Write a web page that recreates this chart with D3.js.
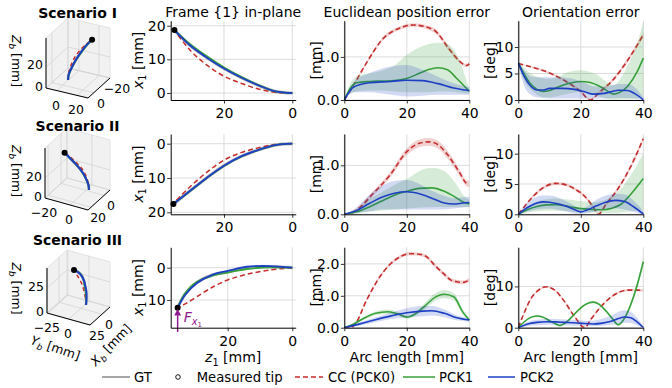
<!DOCTYPE html>
<html><head><meta charset="utf-8">
<script src="https://cdn.jsdelivr.net/npm/d3@7/dist/d3.min.js"></script>
<style>
html,body{margin:0;padding:0;background:#fff;}
svg{display:block;font-family:"DejaVu Sans",sans-serif;}
</style></head><body>
<svg id="fig" width="672" height="388"></svg>
<script>
// ================= DATA =================
// Frame {1} in-plane shapes: z1 [mm] and x1 [mm]
const s1Z   = [0,5,10,15,20,25,30,34.5];
const s1GT  = [0,0.5,2.3,4.6,7.3,10.5,14.2,18.7];
const s1P1  = [0,0.5,2.4,4.8,7.6,10.9,14.6,18.7];
const s1P2  = [0,0.5,2.3,4.6,7.3,10.5,14.2,18.7];
const s1CCZ = [0,5,10,15,20,25,30,34.5];
const s1CC  = [0,0.2,1.2,2.9,5.0,8.3,12.8,18.7];
const s1Tip = [34.5,18.7];

const s2Z   = [0,5,9.6,15,20,25,30,34.8];
const s2GT  = [0,0.4,1.7,3.7,6.4,9.9,13.8,17.6];
const s2P1  = [0,0.4,1.75,3.8,6.5,10.0,13.9,17.6];
const s2P2  = [0,0.4,1.7,3.7,6.4,9.9,13.8,17.6];
const s2CCZ = [0,5,9.6,15,20,25,30,34.8];
const s2CC  = [0,0.25,1.1,2.6,4.8,8.3,12.6,17.4];
const s2Tip = [34.8,17.6];

const s3Z   = [0,6.9,14.1,20,24.5,29.6,33.2,35.5];
const s3GT  = [0,-0.3,0.1,1.25,2.2,4.6,8.2,12.4];
const s3P1  = [0,-0.1,0.4,1.5,2.4,4.4,7.9,12.4];
const s3P2  = [0,-0.5,-0.3,1.0,2.05,4.8,8.45,12.4];
const s3CCZ = [0,6.9,14.1,20,24.5,29.6,33.2,35.5,36.8];
const s3CC  = [0,0.7,2.05,3.8,5.9,9.0,11.2,12.4,13.1];
const s3Tip = [35.5,12.4];

// 3D view: base offset (Xb,Yb) and bending-plane angle [deg]
const s1Base = [-7,-0.4],  s1Phi = 124.8;
const s2Base = [-1.6,1.6], s2Phi = -71.6;
const s3Base = [-8.4,1.3], s3Phi = -57.4;
const s1XbTicks = [-20,0], s1YbTicks = [0,20],   s1ZbTicks = [0,20];
const s2XbTicks = [20,0],  s2YbTicks = [-20,0],  s2ZbTicks = [0,20];
const s3XbTicks = [25,0],  s3YbTicks = [-25,0],  s3ZbTicks = [0,25];

// Euclidean position error [mm] vs arc length [mm]
const pos1CCx = [0,3,7,12.5,17.8,22,28.5,33.8,37,39,40];
const pos1CCm = [0,0.35,0.85,1.43,1.67,1.74,1.63,1.16,0.89,0.8,0.84];
const pos1CCs = [0,0.02,0.03,0.04,0.04,0.04,0.05,0.05,0.04,0.04,0.04];
const pos1P1x = [0,2,4,8,12,16,20,24,27,30,33,36,40];
const pos1P1m = [0,0.28,0.4,0.43,0.44,0.45,0.5,0.62,0.71,0.75,0.7,0.5,0.2];
const pos1P1lo= [0,0.15,0.2,0.22,0.22,0.2,0.18,0.18,0.18,0.2,0.2,0.18,0.15];
const pos1P1hi= [0,0.4,0.55,0.62,0.68,0.8,1.05,1.22,1.3,1.33,1.3,1.05,0.25];
const pos1P2x = [0,3,8,15,20,25,30,35,40];
const pos1P2m = [0,0.3,0.4,0.43,0.46,0.45,0.38,0.28,0.22];
const pos1P2lo= [0,0.18,0.18,0.12,0.08,0.1,0.12,0.12,0.12];
const pos1P2hi= [0,0.42,0.62,0.78,0.81,0.7,0.54,0.39,0.3];

const pos2CCx = [0,2,4,9.3,14.6,20,24,27,30,33,37,39,40];
const pos2CCm = [0,0.02,0.09,0.43,0.8,1.28,1.45,1.48,1.42,1.22,0.84,0.64,0.62];
const pos2CCs = [0,0.02,0.03,0.05,0.06,0.07,0.08,0.08,0.08,0.08,0.07,0.06,0.06];
const pos2P1x = [0,4,8,12,16,20,24,28,32,36,38,40];
const pos2P1m = [0,0.05,0.15,0.27,0.39,0.47,0.53,0.54,0.47,0.33,0.25,0.21];
const pos2P1lo= [0,0.02,0.05,0.08,0.1,0.12,0.14,0.15,0.15,0.15,0.15,0.15];
const pos2P1hi= [0,0.1,0.3,0.45,0.6,0.72,0.88,0.95,0.88,0.6,0.4,0.3];
const pos2P2x = [0,4,8,12,16,20,24,28,32,35,38,40];
const pos2P2m = [0,0.08,0.22,0.35,0.43,0.46,0.42,0.33,0.23,0.21,0.23,0.24];
const pos2P2lo= [0,0.02,0.06,0.1,0.1,0.1,0.1,0.1,0.1,0.12,0.14,0.15];
const pos2P2hi= [0,0.15,0.4,0.58,0.68,0.7,0.62,0.48,0.38,0.33,0.35,0.36];

const pos3CCx = [0,2,3.4,7.2,12.5,17.8,21,24,26.4,29,31.7,34,36,38,40];
const pos3CCm = [0,0,0.1,0.88,1.75,2.22,2.32,2.3,2.22,1.95,1.7,1.5,1.44,1.42,1.5];
const pos3CCs = [0,0,0.02,0.03,0.04,0.05,0.05,0.05,0.05,0.06,0.06,0.06,0.06,0.06,0.06];
const pos3P1x = [0,3,6,10,14,17,20,23,26,29,32,35,38,40];
const pos3P1m = [0,0.12,0.28,0.45,0.5,0.44,0.33,0.45,0.7,0.95,1.05,0.97,0.48,0.24];
const pos3P1s = [0,0.03,0.05,0.06,0.07,0.06,0.05,0.07,0.1,0.12,0.13,0.12,0.08,0.05];
const pos3P2x = [0,5,10,15,20,25,28,32,36,40];
const pos3P2m = [0,0.12,0.25,0.37,0.47,0.52,0.53,0.45,0.31,0.24];
const pos3P2s = [0,0.05,0.08,0.1,0.14,0.16,0.15,0.12,0.08,0.05];

// Orientation error [deg] vs arc length [mm]
const ori1CCx = [0,5,10,15,20,23,26,30,35,40];
const ori1CCm = [6.9,6.1,5.1,3.6,1.6,0,1.5,3.6,7.5,12.3];
const ori1CCs = [0.1,0.15,0.2,0.25,0.3,0.3,0.3,0.3,0.4,0.5];
const ori1P1x = [0,2,4,6,8,10,13,16,20,23,26,28,30.5,32,35,38,40];
const ori1P1m = [7,4.8,3.0,2.0,1.6,1.8,2.5,3.1,3.5,3.3,2.6,1.9,1.1,1.3,2.6,5.3,7.9];
const ori1P1lo= [6.8,3.5,2,1,0.5,0.5,0.8,1.2,1.5,1.2,0.6,0.3,0.1,0.1,0.2,0.3,0.5];
const ori1P1hi= [7.2,6,5,4.4,4.1,4.0,4.5,5.3,5.6,5.3,4.5,3.5,2.8,3.5,6.5,10.5,14.8];
const ori1P2x = [0,2,4,6,8,10,14,18,21,24,28,32,35,37,40];
const ori1P2m = [7,4.3,2.6,1.9,1.9,2.2,2.2,2.0,1.6,1.1,1.3,1.85,1.8,1.3,0.05];
const ori1P2lo= [6.8,2.5,1,0.5,0.4,0.3,0.3,0.3,0.3,0.3,0.3,0.4,0.4,0.3,0];
const ori1P2hi= [7.2,5.5,4.5,4.3,4.3,4.3,4.3,3.9,3.3,2.6,2.5,3,3,2.5,0.5];

const ori2CCx = [0,2,5,8,12,15,18,21,24,25.6,28,32,36,40];
const ori2CCm = [0,1.3,3.1,4.4,5.1,4.9,4.2,3.1,1.2,0,1.6,4.3,7.9,12.5];
const ori2CCs = [0,0.1,0.2,0.25,0.25,0.25,0.25,0.25,0.25,0.25,0.3,0.3,0.3,0.4];
const ori2P1x = [0,3,6,9,12,15,18,21,24,27,30,33,36,40];
const ori2P1m = [0,0.8,1.3,1.55,1.6,1.4,1.1,0.9,0.8,0.75,1.0,1.7,3.3,5.9];
const ori2P1lo= [0,0.3,0.5,0.6,0.6,0.5,0.4,0.3,0.3,0.2,0.2,0.3,0.5,0.8];
const ori2P1hi= [0,1.3,2.1,2.5,2.6,2.5,2.3,2.1,2.0,2.2,3.0,4.3,6.5,10];
const ori2P2x = [0,2,4,6,8,10,13,16,19,20,22,25,28,31,34,37,40];
const ori2P2m = [0,0.8,1.4,1.85,2.05,2.0,1.7,1.2,0.55,0.4,0.7,1.4,2.0,2.3,2.1,1.2,0.05];
const ori2P2lo= [0,0.3,0.6,0.8,0.9,0.9,0.7,0.4,0.1,0.1,0.2,0.5,0.9,1.0,0.8,0.4,0];
const ori2P2hi= [0,1.4,2.3,2.9,3.1,3.1,2.7,2.0,1.1,0.9,1.3,2.4,3.1,3.4,3.3,2.2,0.6];

const ori3CCx = [0,2,4,6,9,12,15,18,21.3,23,26,29,32,35,38,40];
const ori3CCm = [0,3.8,7,8.8,9.9,8.9,6.1,2.7,0,1.8,4.7,7.0,8.5,9.1,9.1,9.0];
const ori3CCs = [0,0.2,0.2,0.2,0.2,0.2,0.2,0.2,0.2,0.2,0.2,0.2,0.25,0.3,0.3,0.3];
const ori3P1x = [0,2,4,6,8,10,12,13.3,15,17,19,21,23,24,26,28,30,32,34,36,38,40];
const ori3P1m = [0,1.5,2.5,2.85,2.5,1.7,0.9,0.55,1.1,2.5,4.1,5.4,6.1,6.2,5.6,4.1,2.3,0.7,2.3,5.6,10.2,16];
const ori3P1s = [0,0.2,0.25,0.3,0.3,0.3,0.3,0.3,0.3,0.3,0.3,0.3,0.3,0.3,0.3,0.3,0.3,0.3,0.4,0.6,0.9,1.2];
const ori3P2x = [0,3,6,9,12,15,18,21,24,27,30,32,34,36,38,40];
const ori3P2m = [0,0.9,1.3,1.45,1.4,1.3,1.2,1.0,0.9,1.1,1.6,2.2,2.6,2.4,1.4,0.05];
const ori3P2lo= [0,0.4,0.6,0.7,0.7,0.6,0.5,0.5,0.4,0.5,0.7,1.0,1.2,1.1,0.6,0];
const ori3P2hi= [0,1.4,1.9,2.1,2.1,2.0,1.9,1.7,1.7,2.2,3.0,3.8,4.2,3.8,2.4,0.4];

const posTicks = [[0,1],[0,1],[0,1,2]];
const oriTicks = [[0,5,10],[0,5,10],[0,10]];
const arcTicks = [0,20,40];
const inplaneXTicks = [20,0];
const inplaneYTicks = [[0,10,20],[0,10,20],[0,10]];
const scenarios = ['Scenario I','Scenario II','Scenario III'];
const colTitles = ['Frame {1} in-plane','Euclidean position error','Orientation error'];
const legendLabels = ['GT','Measured tip','CC (PCK0)','PCK1','PCK2'];

// ================= STYLE / LAYOUT =================
const COL = {gt:'#a6a6a6', cc:'#c62d2d', p1:'#37a13a', p2:'#1d3fc4', force:'#8e1a8e'};
const GRID = '#dcdcdc';
const FS = 14;
const rowsY = [[20.7,100],[134,214.3],[247.3,327.7]];
const svg = d3.select('#fig');
const defs = svg.append('defs');

function subLabel(sel, main, sub, rest, size, italicSub=true) {
  sel.append('tspan').attr('font-style','italic').text(main);
  sel.append('tspan').attr('font-size', size*0.7).attr('font-style', italicSub?'italic':'normal').attr('dy', size*0.25).text(sub);
  sel.append('tspan').attr('dy', -size*0.25).text(rest);
}

function styleAxis(g) {
  g.selectAll('.domain').attr('stroke','#000').attr('stroke-width',1);
  g.selectAll('.tick line').attr('stroke','#000').attr('stroke-width',0.8);
  g.selectAll('.tick text').attr('font-size',FS).attr('font-family','DejaVu Sans').attr('fill','#000');
}
const fmt = d => d < 0 ? '\u2212' + Math.abs(d) : String(d);

let clipId = 0;
function makeClip(x0,y0,x1,y1){
  const id = 'clip'+(clipId++);
  defs.append('clipPath').attr('id',id).append('rect').attr('x',x0).attr('y',y0).attr('width',x1-x0).attr('height',y1-y0);
  return 'url(#'+id+')';
}

// ---------- in-plane panels ----------
const inplaneCfg = [
  {xDom:[35.6,-1],   yDom:[-2.08,21.49], yRange:[100,20.7]},
  {xDom:[35.6,-1],   yDom:[-2.83,20.58], yRange:[134,214.3]},
  {xDom:[37.65,-1.05], yDom:[-6.32,18.58], yRange:[247.3,327.7]},
];
const inplaneData = [
  {z:s1Z, gt:s1GT, p1:s1P1, p2:s1P2, ccz:s1CCZ, cc:s1CC, tip:s1Tip},
  {z:s2Z, gt:s2GT, p1:s2P1, p2:s2P2, ccz:s2CCZ, cc:s2CC, tip:s2Tip},
  {z:s3Z, gt:s3GT, p1:s3P1, p2:s3P2, ccz:s3CCZ, cc:s3CC, tip:s3Tip},
];
const L0 = 170.7, L1 = 295.7;
inplaneCfg.forEach((cfg, r) => {
  const [top, bot] = rowsY[r];
  const xs = d3.scaleLinear().domain(cfg.xDom).range([L0, L1]);
  const ys = d3.scaleLinear().domain(cfg.yDom).range(cfg.yRange);
  const g = svg.append('g');
  g.selectAll(null).data(inplaneXTicks).join('line')
    .attr('x1',d=>xs(d)).attr('x2',d=>xs(d)).attr('y1',top).attr('y2',bot).attr('stroke',GRID).attr('stroke-width',1);
  g.selectAll(null).data(inplaneYTicks[r]).join('line')
    .attr('x1',L0).attr('x2',L1).attr('y1',d=>ys(d)).attr('y2',d=>ys(d)).attr('stroke',GRID).attr('stroke-width',1);
  const D = inplaneData[r];
  const line = (zs, xsv) => d3.line().x((d,i)=>xs(zs[i])).y(d=>ys(d)).curve(d3.curveCatmullRom.alpha(0.5))(xsv);
  g.append('path').attr('d', line(D.z, D.gt)).attr('fill','none').attr('stroke',COL.gt).attr('stroke-width',3.2).attr('opacity',0.8);
  g.append('path').attr('d', line(D.ccz, D.cc)).attr('fill','none').attr('stroke',COL.cc).attr('stroke-width',1.5).attr('stroke-dasharray','5,3');
  g.append('path').attr('d', line(D.z, D.p1)).attr('fill','none').attr('stroke',COL.p1).attr('stroke-width',1.8);
  g.append('path').attr('d', line(D.z, D.p2)).attr('fill','none').attr('stroke',COL.p2).attr('stroke-width',1.8);
  g.append('circle').attr('cx',xs(D.tip[0])).attr('cy',ys(D.tip[1])).attr('r',3).attr('fill','#000');
  if (r === 2) {
    // applied tip force arrow
    const ax = xs(D.tip[0]);
    g.append('line').attr('x1',ax).attr('x2',ax).attr('y1',ys(19.9)).attr('y2',ys(D.tip[1]+2.3))
      .attr('stroke',COL.force).attr('stroke-width',1.5);
    const yt = ys(D.tip[1]+0.4);
    g.append('path').attr('d',`M${ax},${yt}L${ax-3.5},${yt+6.5}L${ax+3.5},${yt+6.5}Z`).attr('fill',COL.force);
    const t = g.append('text').attr('x',ax+6).attr('y',ys(16.8)).attr('fill',COL.force).attr('font-size',FS);
    t.append('tspan').attr('font-style','italic').text('F');
    t.append('tspan').attr('font-style','italic').attr('font-size',FS*0.7).attr('dy',3.5).text('x');
    t.append('tspan').attr('font-size',FS*0.5).attr('dy',2).text('1');
  }
  const bottomY = Math.max(...cfg.yRange);
  const ax = g.append('g').attr('transform',`translate(0,${bottomY})`)
    .call(d3.axisBottom(xs).tickValues(inplaneXTicks).tickSize(3.5).tickPadding(4.5).tickSizeOuter(0).tickFormat(fmt));
  styleAxis(ax);
  const ay = g.append('g').attr('transform',`translate(${L0},0)`)
    .call(d3.axisLeft(ys).tickValues(inplaneYTicks[r]).tickSize(3.5).tickPadding(1.5).tickSizeOuter(0).tickFormat(fmt));
  styleAxis(ay);
  const yl = g.append('text').attr('transform',`translate(142.5,${(top+bot)/2}) rotate(-90)`).attr('text-anchor','middle').attr('font-size',FS);
  subLabel(yl,'x','1',' [mm]',FS,false);
});

// ---------- error panels ----------
function errPanel(x0, r, yDom, yTicks, series, ylabel) {
  const [top, bot] = rowsY[r];
  const xs = d3.scaleLinear().domain([0,40]).range([x0, x0+125]);
  const ys = d3.scaleLinear().domain(yDom).range([bot, top]);
  const g = svg.append('g');
  g.selectAll(null).data(arcTicks).join('line')
    .attr('x1',d=>xs(d)).attr('x2',d=>xs(d)).attr('y1',top).attr('y2',bot).attr('stroke',GRID).attr('stroke-width',1);
  g.selectAll(null).data(yTicks).join('line')
    .attr('x1',x0).attr('x2',x0+125).attr('y1',d=>ys(d)).attr('y2',d=>ys(d)).attr('stroke',GRID).attr('stroke-width',1);
  const pg = g.append('g').attr('clip-path', makeClip(x0, top, x0+126, bot));
  series.forEach(s => {
    const pts = s.x.map((x,i)=>({x, m:s.m[i],
      lo: s.lo ? s.lo[i] : s.m[i]-s.sd[i], hi: s.hi ? s.hi[i] : s.m[i]+s.sd[i]}));
    pg.append('path').attr('d', d3.area().x(d=>xs(d.x)).y0(d=>ys(Math.max(0,d.lo))).y1(d=>ys(d.hi)).curve(d3.curveMonotoneX)(pts))
      .attr('fill', s.color).attr('fill-opacity', s.alpha || 0.2).attr('stroke','none');
    pg.append('path').attr('d', d3.line().x(d=>xs(d.x)).y(d=>ys(d.m)).curve(d3.curveMonotoneX)(pts))
      .attr('fill','none').attr('stroke', s.color).attr('stroke-width',1.6).attr('stroke-dasharray', s.dash || null);
  });
  const ax = g.append('g').attr('transform',`translate(0,${bot})`)
    .call(d3.axisBottom(xs).tickValues(arcTicks).tickSize(3.5).tickPadding(4.5).tickSizeOuter(0));
  styleAxis(ax);
  const ay = g.append('g').attr('transform',`translate(${x0},0)`)
    .call(d3.axisLeft(ys).tickValues(yTicks).tickSize(3.5).tickPadding(1.5).tickSizeOuter(0));
  styleAxis(ay);
  g.append('text').attr('transform',`translate(${x0-23},${(top+bot)/2}) rotate(-90)`).attr('text-anchor','middle')
    .attr('font-size',FS).text(ylabel);
  if (r === 2) {
    g.append('text').attr('x',x0+62.5).attr('y',362).attr('text-anchor','middle').attr('font-size',FS).text('Arc length [mm]');
  }
}
const S = (x,m,o,color,dash,alpha) => Object.assign({x,m,color,dash,alpha}, o);
errPanel(344.3, 0, [0,1.84], posTicks[0], [
  S(pos1CCx,pos1CCm,{sd:pos1CCs},COL.cc,'5,3',0.22),
  S(pos1P1x,pos1P1m,{lo:pos1P1lo,hi:pos1P1hi},COL.p1),
  S(pos1P2x,pos1P2m,{lo:pos1P2lo,hi:pos1P2hi},COL.p2)], '[mm]');
errPanel(344.3, 1, [0,1.64], posTicks[1], [
  S(pos2CCx,pos2CCm,{sd:pos2CCs},COL.cc,'5,3',0.22),
  S(pos2P1x,pos2P1m,{lo:pos2P1lo,hi:pos2P1hi},COL.p1),
  S(pos2P2x,pos2P2m,{lo:pos2P2lo,hi:pos2P2hi},COL.p2)], '[mm]');
errPanel(344.3, 2, [0,2.52], posTicks[2], [
  S(pos3CCx,pos3CCm,{sd:pos3CCs},COL.cc,'5,3',0.22),
  S(pos3P1x,pos3P1m,{sd:pos3P1s},COL.p1),
  S(pos3P2x,pos3P2m,{sd:pos3P2s},COL.p2)], '[mm]');
errPanel(518.3, 0, [0,14.96], oriTicks[0], [
  S(ori1CCx,ori1CCm,{sd:ori1CCs},COL.cc,'5,3',0.22),
  S(ori1P1x,ori1P1m,{lo:ori1P1lo,hi:ori1P1hi},COL.p1),
  S(ori1P2x,ori1P2m,{lo:ori1P2lo,hi:ori1P2hi},COL.p2)], '[deg]');
errPanel(518.3, 1, [0,13.25], oriTicks[1], [
  S(ori2CCx,ori2CCm,{sd:ori2CCs},COL.cc,'5,3',0.22),
  S(ori2P1x,ori2P1m,{lo:ori2P1lo,hi:ori2P1hi},COL.p1),
  S(ori2P2x,ori2P2m,{lo:ori2P2lo,hi:ori2P2hi},COL.p2)], '[deg]');
errPanel(518.3, 2, [0,19.47], oriTicks[2], [
  S(ori3CCx,ori3CCm,{sd:ori3CCs},COL.cc,'5,3',0.22),
  S(ori3P1x,ori3P1m,{sd:ori3P1s},COL.p1),
  S(ori3P2x,ori3P2m,{lo:ori3P2lo,hi:ori3P2hi},COL.p2)], '[deg]');

// ---------- 3D panels ----------
const view3D = [
  {B:[68,68],  U:[-22,20], V:[42,10], h:50, xDom:[-20,7.4],   yDom:[-10.8,30.9], zDom:[0,47.6]},
  {B:[67,178], U:[-22,20], V:[43,12], h:50, xDom:[-9.2,24.8], yDom:[-20,14.5],   zDom:[0,50]},
  {B:[67,295], U:[-20,18], V:[43,12], h:45, xDom:[-16.7,25],  yDom:[-26,25],     zDom:[0,45]},
];
const shape3D = [
  {base:s1Base, phi:s1Phi, xt:s1XbTicks, yt:s1YbTicks, zt:s1ZbTicks},
  {base:s2Base, phi:s2Phi, xt:s2XbTicks, yt:s2YbTicks, zt:s2ZbTicks},
  {base:s3Base, phi:s3Phi, xt:s3XbTicks, yt:s3YbTicks, zt:s3ZbTicks},
];
view3D.forEach((cfg, r) => {
  const g = svg.append('g');
  const su = d3.scaleLinear().domain(cfg.xDom).range([0,1]);
  const sv = d3.scaleLinear().domain(cfg.yDom).range([0,1]);
  const sw = d3.scaleLinear().domain(cfg.zDom).range([0,1]);
  const P = (u,v,w) => [cfg.B[0]+u*cfg.U[0]+v*cfg.V[0], cfg.B[1]+u*cfg.U[1]+v*cfg.V[1]-w*cfg.h];
  const proj = (X,Y,Z) => P(su(X), sv(Y), sw(Z));
  const poly = pts => 'M'+pts.map(p=>p.join(',')).join('L')+'Z';
  const paneFill = '#f1f1f1', paneStroke = '#e2e2e2';
  g.append('path').attr('d',poly([P(0,0,0),P(1,0,0),P(1,0,1),P(0,0,1)])).attr('fill',paneFill).attr('stroke',paneStroke);
  g.append('path').attr('d',poly([P(0,0,0),P(0,1,0),P(0,1,1),P(0,0,1)])).attr('fill',paneFill).attr('stroke',paneStroke);
  g.append('path').attr('d',poly([P(0,0,0),P(1,0,0),P(1,1,0),P(0,1,0)])).attr('fill',paneFill).attr('stroke',paneStroke);
  const Sh = shape3D[r];
  const seg = (a,b) => g.append('line').attr('x1',a[0]).attr('y1',a[1]).attr('x2',b[0]).attr('y2',b[1]);
  const gridC = '#d4d4d4';
  Sh.xt.forEach(t => { const u=su(t); seg(P(u,0,0),P(u,1,0)).attr('stroke',gridC).attr('stroke-width',0.8); seg(P(u,0,0),P(u,0,1)).attr('stroke',gridC).attr('stroke-width',0.8); });
  Sh.yt.forEach(t => { const v=sv(t); seg(P(0,v,0),P(1,v,0)).attr('stroke',gridC).attr('stroke-width',0.8); seg(P(0,v,0),P(0,v,1)).attr('stroke',gridC).attr('stroke-width',0.8); });
  Sh.zt.forEach(t => { const w=sw(t); seg(P(0,0,w),P(1,0,w)).attr('stroke',gridC).attr('stroke-width',0.8); seg(P(0,0,w),P(0,1,w)).attr('stroke',gridC).attr('stroke-width',0.8); });
  // axis lines
  seg(P(1,0,0),P(1,1,0)).attr('stroke','#000').attr('stroke-width',1);
  seg(P(1,1,0),P(0,1,0)).attr('stroke','#000').attr('stroke-width',1);
  seg(P(1,0,0),P(1,0,1)).attr('stroke','#000').attr('stroke-width',1);
  // tick labels
  const f3 = 12.5;
  Sh.zt.forEach(t => { const p = P(1,0,sw(t)); g.append('text').attr('x',p[0]-3).attr('y',p[1]+2.5).attr('text-anchor','end').attr('font-size',f3).text(fmt(t)); });
  Sh.yt.forEach(t => { const p = P(1,sv(t),0); g.append('text').attr('x',p[0]-1).attr('y',p[1]+19).attr('text-anchor','middle').attr('font-size',f3).text(fmt(t)); });
  Sh.xt.forEach(t => { const p = P(su(t),1,0); g.append('text').attr('x',p[0]+7).attr('y',p[1]+15).attr('text-anchor','middle').attr('font-size',f3).text(fmt(t)); });
  // curves
  const D = inplaneData[r];
  const c = Math.cos(Sh.phi*Math.PI/180), s = Math.sin(Sh.phi*Math.PI/180);
  const to3 = (zs, xv) => xv.map((x1,i) => proj(Sh.base[0]+x1*c, Sh.base[1]+x1*s, zs[i]));
  const ln = d3.line().curve(d3.curveCatmullRom.alpha(0.5));
  g.append('path').attr('d',ln(to3(D.z,D.gt))).attr('fill','none').attr('stroke',COL.gt).attr('stroke-width',2.5);
  g.append('path').attr('d',ln(to3(D.ccz,D.cc))).attr('fill','none').attr('stroke',COL.cc).attr('stroke-width',1.5).attr('stroke-dasharray','4,3');
  g.append('path').attr('d',ln(to3(D.z,D.p1))).attr('fill','none').attr('stroke',COL.p1).attr('stroke-width',2);
  g.append('path').attr('d',ln(to3(D.z,D.p2))).attr('fill','none').attr('stroke',COL.p2).attr('stroke-width',2);
  const tp = proj(Sh.base[0]+D.tip[1]*c, Sh.base[1]+D.tip[1]*s, D.tip[0]);
  g.append('circle').attr('cx',tp[0]).attr('cy',tp[1]).attr('r',3).attr('fill','#000');
  // z label
  const zc = P(1,0,0.5);
  const zl = g.append('text').attr('transform',`translate(12,${zc[1]-2}) rotate(90)`).attr('text-anchor','middle').attr('font-size',f3);
  subLabel(zl,'Z','b',' [mm]',f3);
  if (r === 2) {
    const yl = g.append('text').attr('transform','translate(54,352) rotate(19)').attr('text-anchor','middle').attr('font-size',f3);
    subLabel(yl,'Y','b',' [mm]',f3);
    const xl = g.append('text').attr('transform','translate(114,348) rotate(-46)').attr('text-anchor','middle').attr('font-size',f3);
    subLabel(xl,'X','b',' [mm]',f3);
  }
  // scenario title
  svg.append('text').attr('x',77.5).attr('y',rowsY[r][0]-2.7).attr('text-anchor','middle')
    .attr('font-size',FS).attr('font-weight','bold').text(scenarios[r]);
});

// ---------- titles & labels ----------
[[233.2,colTitles[0]],[406.8,colTitles[1]],[580.8,colTitles[2]]].forEach(([x,t]) =>
  svg.append('text').attr('x',x).attr('y',16.5).attr('text-anchor','middle').attr('font-size',FS).text(t));
const zl1 = svg.append('text').attr('x',233.2).attr('y',362).attr('text-anchor','middle').attr('font-size',FS);
subLabel(zl1,'z','1',' [mm]',FS,false);

// ---------- legend ----------
const LY = 377, LF = 13.2;
const lg = svg.append('g');
lg.append('line').attr('x1',102).attr('x2',130).attr('y1',LY).attr('y2',LY).attr('stroke',COL.gt).attr('stroke-width',2);
lg.append('text').attr('x',134).attr('y',LY+4.7).attr('font-size',LF).text(legendLabels[0]);
lg.append('circle').attr('cx',178).attr('cy',LY).attr('r',2.3).attr('fill','none').attr('stroke','#000').attr('stroke-width',0.9);
lg.append('text').attr('x',196.7).attr('y',LY+4.7).attr('font-size',LF).text(legendLabels[1]);
lg.append('line').attr('x1',295).attr('x2',323).attr('y1',LY).attr('y2',LY).attr('stroke',COL.cc).attr('stroke-width',1.5).attr('stroke-dasharray','5,3');
lg.append('text').attr('x',328).attr('y',LY+4.7).attr('font-size',LF).text(legendLabels[2]);
lg.append('line').attr('x1',403).attr('x2',435).attr('y1',LY).attr('y2',LY).attr('stroke',COL.p1).attr('stroke-width',1.5);
lg.append('text').attr('x',439).attr('y',LY+4.7).attr('font-size',LF).text(legendLabels[3]);
lg.append('line').attr('x1',488).attr('x2',515).attr('y1',LY).attr('y2',LY).attr('stroke',COL.p2).attr('stroke-width',1.5);
lg.append('text').attr('x',520).attr('y',LY+4.7).attr('font-size',LF).text(legendLabels[4]);
</script></body></html>
